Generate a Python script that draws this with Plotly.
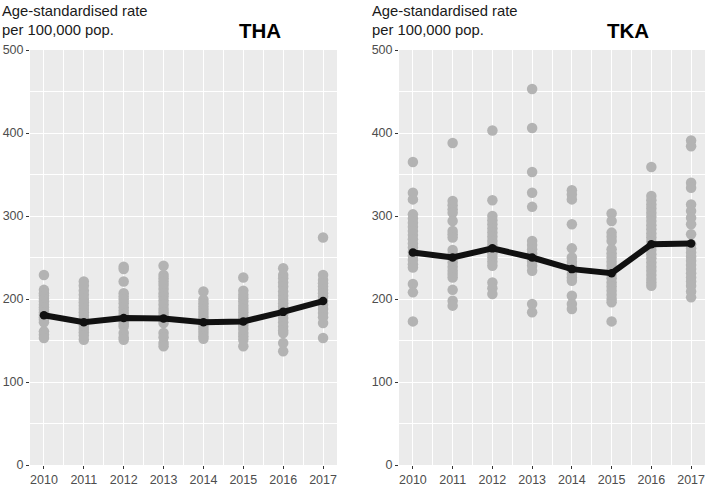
import plotly.graph_objects as go

years = [2010, 2011, 2012, 2013, 2014, 2015, 2016, 2017]
year_labels = ["2010", "2011", "2012", "2013", "2014", "2015", "2016", "2017"]

tha_2010 = [229, 211, 207, 204, 200, 197, 193, 190, 187, 184, 181, 178, 175, 172, 161, 157, 153]
tha_2011 = [221, 216, 210, 205, 200, 196, 192, 188, 184, 180, 176, 172, 168, 164, 160, 156, 151]
tha_2012 = [239, 236, 221, 207, 203, 199, 195, 190, 186, 182, 178, 174, 170, 167, 159, 154, 151]
tha_2013 = [240, 229, 225, 221, 217, 212, 207, 203, 198, 193, 188, 184, 180, 175, 171, 159, 154, 147, 143]
tha_2014 = [209, 199, 195, 191, 187, 183, 179, 175, 171, 167, 163, 159, 155, 152]
tha_2015 = [226, 210, 205, 201, 197, 192, 188, 184, 180, 176, 172, 168, 164, 159, 155, 151, 143]
tha_2016 = [237, 229, 225, 220, 215, 209, 204, 199, 195, 191, 187, 182, 177, 172, 167, 162, 159, 147, 137]
tha_2017 = [274, 229, 223, 219, 215, 211, 207, 203, 198, 193, 188, 183, 178, 171, 153]
tha_mean = [180.5, 172, 177, 176.5, 172, 173, 184.5, 197.5]

tka_2010 = [365, 328, 320, 302, 297, 292, 287, 282, 277, 272, 267, 262, 257, 252, 247, 242, 238, 218, 208, 173]
tka_2011 = [388, 318, 313, 308, 304, 294, 282, 278, 274, 259, 254, 249, 244, 239, 234, 230, 226, 211, 198, 192]
tka_2012 = [403, 319, 300, 295, 290, 285, 280, 275, 270, 265, 260, 255, 250, 245, 240, 220, 213, 206]
tka_2013 = [453, 406, 353, 328, 311, 270, 265, 260, 255, 250, 245, 240, 234, 194, 184]
tka_2014 = [331, 326, 320, 290, 261, 250, 245, 240, 235, 230, 226, 222, 204, 194, 188]
tka_2015 = [303, 294, 280, 275, 270, 260, 255, 250, 245, 240, 235, 230, 225, 220, 215, 210, 205, 200, 196, 173]
tka_2016 = [359, 324, 319, 314, 309, 304, 299, 294, 289, 284, 279, 274, 269, 264, 259, 254, 249, 244, 239, 234, 229, 224, 220, 216]
tka_2017 = [391, 384, 340, 334, 314, 306, 298, 290, 278, 266, 261, 256, 251, 246, 241, 236, 231, 226, 221, 216, 209, 202]
tka_mean = [256, 250, 261, 250, 236, 231, 266, 267]

tha_groups = [tha_2010, tha_2011, tha_2012, tha_2013, tha_2014, tha_2015, tha_2016, tha_2017]
tka_groups = [tka_2010, tka_2011, tka_2012, tka_2013, tka_2014, tka_2015, tka_2016, tka_2017]

y_ticks = [0, 100, 200, 300, 400, 500]
y_label = "Age-standardised rate<br>per 100,000 pop."
panel_titles = ["THA", "TKA"]

FONT = "Liberation Sans, Arial, sans-serif"
POINT_GREY = "#B3B3B3"
LINE_BLACK = "#111111"


def flatten(groups):
    xs, ys = [], []
    for yr, vals in zip(years, groups):
        xs.extend([yr] * len(vals))
        ys.extend(vals)
    return xs, ys


fig = go.Figure()
for i, (groups, means) in enumerate([(tha_groups, tha_mean), (tka_groups, tka_mean)]):
    ax = "" if i == 0 else "2"
    xs, ys = flatten(groups)
    fig.add_trace(go.Scatter(x=xs, y=ys, mode="markers",
                             marker=dict(color=POINT_GREY, size=10.5, line=dict(width=0)),
                             xaxis="x" + ax, yaxis="y" + ax, showlegend=False,
                             hoverinfo="skip"))
    fig.add_trace(go.Scatter(x=years, y=means, mode="lines+markers",
                             line=dict(color=LINE_BLACK, width=6),
                             marker=dict(color=LINE_BLACK, size=8.5, line=dict(width=0)),
                             xaxis="x" + ax, yaxis="y" + ax, showlegend=False))

xdomains = [[30 / 711, 337 / 711], [399 / 711, 705 / 711]]
ydomain = [23 / 488, 438 / 488]

common_x = dict(range=[2009.65, 2017.35], tickmode="array", tickvals=years, ticktext=year_labels,
                showgrid=True, gridcolor="white", gridwidth=1.2, zeroline=False, showline=False,
                ticks="outside", ticklen=3, tickwidth=1.1, tickcolor="#333333",
                tickfont=dict(family=FONT, size=12.5, color="#4D4D4D"),
                minor=dict(tickmode="array", tickvals=[y + 0.5 for y in years[:-1]],
                           showgrid=True, gridcolor="white", gridwidth=0.6, ticks=""),
                automargin=False, fixedrange=True)
common_y = dict(range=[0, 500], tickmode="array", tickvals=y_ticks,
                showgrid=True, gridcolor="white", gridwidth=1.2, zeroline=False, showline=False,
                ticks="outside", ticklen=3, tickwidth=1.1, tickcolor="#333333",
                tickfont=dict(family=FONT, size=12.5, color="#4D4D4D"),
                minor=dict(tickmode="array", tickvals=[50, 150, 250, 350, 450],
                           showgrid=True, gridcolor="white", gridwidth=0.6, ticks=""),
                automargin=False, fixedrange=True)

fig.update_layout(
    width=711, height=488,
    margin=dict(l=0, r=0, t=0, b=0, autoexpand=False),
    paper_bgcolor="white", plot_bgcolor="#EBEBEB",
    xaxis=dict(domain=xdomains[0], anchor="y", **common_x),
    yaxis=dict(domain=ydomain, anchor="x", **common_y),
    xaxis2=dict(domain=xdomains[1], anchor="y2", **common_x),
    yaxis2=dict(domain=ydomain, anchor="x2", **common_y),
    showlegend=False,
)

label_x = [0, 370 / 711]
title_x = [260 / 711, 628 / 711]
for i in range(2):
    fig.add_annotation(text=y_label, xref="paper", yref="paper", x=label_x[i], y=1 - 1 / 488,
                       xanchor="left", yanchor="top", align="left", showarrow=False,
                       font=dict(family=FONT, size=14.8, color="#1A1A1A"))
    fig.add_annotation(text="<b>" + panel_titles[i] + "</b>", xref="paper", yref="paper",
                       x=title_x[i], y=(488 - 31) / 488, xanchor="center", yanchor="middle",
                       showarrow=False, font=dict(family=FONT, size=20.5, color="#000000"))

fig.write_html("out.html", config={"displayModeBar": False},
               post_script="document.body.style.margin='0';document.body.style.padding='0';"
                           "document.body.style.overflow='hidden';")
